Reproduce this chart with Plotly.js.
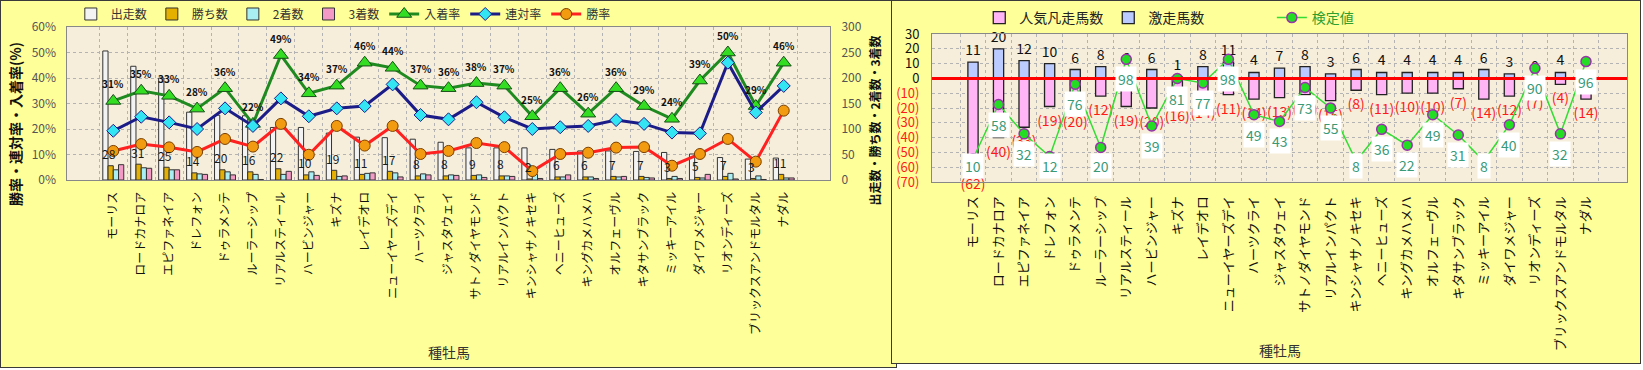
<!DOCTYPE html>
<html><head><meta charset="utf-8">
<script src="https://cdn.plot.ly/plotly-3.0.1.min.js"></script>
<style>
body{margin:0;background:#ffffff;}
#left{position:absolute;left:0;top:0;width:897px;height:368px;border:1px solid #3a3a3a;box-sizing:border-box;background:#FFFF99;}
#right{position:absolute;left:891px;top:0;width:750px;height:364px;border:1px solid #3a3a3a;box-sizing:border-box;background:#FFFF99;}
</style></head><body>
<div id="left"></div><div id="right"></div>
<script>
// ---------- data ----------
const sires = ['モーリス','ロードカナロア','エピファネイア','ドレフォン','ドゥラメンテ','ルーラーシップ','リアルスティール','ハービンジャー','キズナ','レイデオロ','ニューイヤーズデイ','ハーツクライ','ジャスタウェイ','サトノダイヤモンド','リアルインパクト','キンシャサノキセキ','ヘニーヒューズ','キングカメハメハ','オルフェーヴル','キタサンブラック','ミッキーアイル','ダイワメジャー','リオンディーズ','ブリックスアンドモルタル','ナダル'];
const runs    = [253,223,200,133,127,126,103,103,92,84,83,80,74,63,63,63,60,57,57,56,54,51,44,41,43];
const wins    = [28,31,25,14,20,16,22,10,19,11,17,8,8,9,8,2,6,6,7,7,3,5,7,3,11];
const seconds = [20,24,20,12,16,11,11,16,7,13,14,12,10,10,8,11,6,6,6,5,7,4,13,8,4];
const thirds  = [30,23,20,11,10,1,17,9,8,14,6,10,9,5,7,3,10,3,7,4,3,11,2,1,4];
const placeRate  = [31,35,33,28,36,22,49,34,37,46,44,37,36,38,37,25,36,26,36,29,24,39,50,29,46];
const rentaiRate = [19.3,24.8,22.6,20.0,28.1,21.2,32.0,25.0,28.1,29.0,37.5,25.5,23.8,30.5,24.6,20.0,20.7,21.2,23.5,22.0,18.6,18.3,46.0,26.5,36.9];
const winRate    = [11.4,14.1,12.8,11.0,16.1,13.1,22.0,9.9,21.2,13.5,21.2,10.2,11.4,14.5,12.9,3.5,10.2,10.7,12.7,12.9,5.6,10.2,16.1,7.2,27.2];

const surge   = [11,20,12,10,6,8,6,6,1,8,11,4,7,8,3,6,4,4,4,4,6,3,0,4,3];
const popFail = [-62,-40,-33,-19,-20,-12,-19,-20,-16,-14,-11,-14,-13,-11,-15,-8,-11,-10,-10,-7,-14,-12,-7,-4,-14];
const testVal = [10,58,32,12,76,20,98,39,81,77,98,49,43,73,55,8,36,22,49,31,8,40,90,32,96];

const rightTickVals = [30,20,10,0,-10,-20,-30,-40,-50,-60,-70];

// ---------- styles ----------
const FONT = '"Noto Sans CJK JP","Noto Sans",sans-serif';
const GRID = '#B3B3B3';
const barLine = {color:'#333333', width:1};

// ---------- left chart ----------
const leftTraces = [
  {type:'bar', name:'出走数', x:sires, y:runs, marker:{color:'#F3F3F3', line:barLine}},
  {type:'bar', name:'勝ち数', x:sires, y:wins, marker:{color:'#E6B000', line:barLine}},
  {type:'bar', name:'2着数', x:sires, y:seconds, marker:{color:'#A8EEF2', line:barLine}},
  {type:'bar', name:'3着数', x:sires, y:thirds, marker:{color:'#F49AC6', line:barLine}},
  {type:'scatter', mode:'lines+markers', name:'入着率', x:sires, y:placeRate, yaxis:'y2',
   line:{color:'#1F8A1F', width:3}, marker:{symbol:'triangle-up', size:13, color:'#33DD22', line:{color:'#174F17', width:1}}},
  {type:'scatter', mode:'lines+markers', name:'連対率', x:sires, y:rentaiRate, yaxis:'y2',
   line:{color:'#1C1C88', width:3}, marker:{symbol:'diamond', size:10, color:'#33E5F2', line:{color:'#1C1C88', width:1}}},
  {type:'scatter', mode:'lines+markers', name:'勝率', x:sires, y:winRate, yaxis:'y2',
   line:{color:'#FF2020', width:3}, marker:{symbol:'circle', size:11, color:'#F29A10', line:{color:'#7A4000', width:1}}}
];

const leftAnn = [];
sires.forEach((s,i)=>{
  leftAnn.push({x:s, y:wins[i], xref:'x', yref:'y', text:String(wins[i]), showarrow:false,
    yshift:12, xshift:-4, font:{size:12, color:'#1a1a1a'}});
  leftAnn.push({x:s, y:placeRate[i], xref:'x', yref:'y2', text:placeRate[i]+'%', showarrow:false,
    yshift:17, font:{size:10, color:'#111', weight:'bold'}});
});
leftAnn.push({xref:'paper', yref:'paper', x:0.5, y:-1.124, text:'種牡馬', showarrow:false,
  font:{size:14, color:'#333'}, xanchor:'center', yanchor:'middle'});
leftAnn.push({xref:'paper', yref:'paper', x:-0.068, y:0.366, text:'勝率・連対率・入着率(%)', showarrow:false,
  textangle:-90, xanchor:'center', yanchor:'middle', font:{size:14, color:'#111', weight:'bold'}});
leftAnn.push({xref:'paper', yref:'paper', x:1.058, y:0.39, text:'出走数・勝ち数・2着数・3着数', showarrow:false,
  textangle:-90, xanchor:'center', yanchor:'middle', font:{size:12, color:'#111', weight:'bold'}});

const leftLayout = {
  width:895, height:366,
  paper_bgcolor:'#FFFF99', plot_bgcolor:'#F6EEDB',
  margin:{l:66, r:66, t:26, b:187, autoexpand:false},
  barmode:'group', bargap:0.25, bargroupgap:0,
  font:{family:FONT, size:12, color:'#222'},
  hovermode:false,
  showlegend:true,
  legend:{orientation:'h', x:0.005, xanchor:'left', y:1.085, yanchor:'middle',
    font:{size:12, color:'#333'}, bgcolor:'rgba(0,0,0,0)', traceorder:'normal'},
  xaxis:{type:'category', tickangle:-90, tickfont:{size:12, color:'#111'},
    showgrid:true, gridcolor:GRID, griddash:'dot', tickson:'boundaries', ticks:'',
    showline:true, mirror:true, linecolor:'#888', linewidth:1, automargin:false, ticklabelstandoff:6},
  yaxis:{side:'right', range:[0,300], dtick:50, showgrid:true, gridcolor:GRID, griddash:'dot',
    tickfont:{size:12, color:'#555'}, showline:true, mirror:true, linecolor:'#888', zeroline:false,
    automargin:false, ticklabelstandoff:8, ticks:''},
  yaxis2:{overlaying:'y', side:'left', range:[0,60], dtick:10, ticksuffix:'%', showgrid:false,
    zeroline:false, tickfont:{size:12, color:'#555'}, automargin:false, ticklabelstandoff:10, ticks:''},
  annotations:leftAnn
};
Plotly.newPlot('left', leftTraces, leftLayout, {staticPlot:true, displayModeBar:false});

// ---------- right chart ----------
const rightTraces = [
  {type:'bar', name:'人気凡走馬数', x:sires, y:popFail, marker:{color:'#FFB5F6', line:{color:'#222', width:1.3}},
   text:popFail.map(v=>'('+(-v)+')'), textposition:'outside', textfont:{size:14, color:'#FF1A1A'},
   cliponaxis:false, constraintext:'none'},
  {type:'bar', name:'激走馬数', x:sires, y:surge, marker:{color:'#BCCBFF', line:{color:'#222', width:1.3}},
   text:surge.map(v=>String(v)), textposition:'outside', textfont:{size:14, color:'#111'},
   cliponaxis:false, constraintext:'none'},
  {type:'scatter', mode:'lines+markers', name:'検定値', x:sires, y:testVal, yaxis:'y2', legend:'legend2',
   line:{color:'#33DD33', width:1.5}, marker:{size:10, color:'#22DD22', line:{color:'#9933AA', width:1.5}},
   cliponaxis:false}
];

const rightAnn = testVal.map((v,i)=>({x:sires[i], y:Math.max(v,21), xref:'x', yref:'y2', text:String(v),
  showarrow:false, yshift:-20, bgcolor:'#FFFFFF', borderpad:2, font:{size:14, color:'#3A9A78'}}));
rightAnn.push({xref:'paper', yref:'paper', x:0.5, y:-1.135, text:'種牡馬', showarrow:false,
  font:{size:14, color:'#333'}, xanchor:'center', yanchor:'middle'});

const rightLayout = {
  width:748, height:362,
  paper_bgcolor:'#FFFF99', plot_bgcolor:'#F6EEDB',
  margin:{l:40, r:13, t:33, b:181, autoexpand:false},
  barmode:'overlay', bargap:0.6,
  font:{family:FONT, size:13, color:'#222'},
  hovermode:false,
  showlegend:true,
  legend:{orientation:'h', x:0.068, xanchor:'left', y:1.108, yanchor:'middle',
    font:{size:14, color:'#222'}, bgcolor:'rgba(0,0,0,0)', traceorder:'normal'},
  legend2:{orientation:'h', x:0.489, xanchor:'left', y:1.108, yanchor:'middle',
    font:{size:14, color:'#2E9E2E'}, bgcolor:'rgba(0,0,0,0)'},
  xaxis:{type:'category', tickangle:-90, tickfont:{size:13, color:'#111'},
    showgrid:true, gridcolor:GRID, griddash:'dot', tickson:'boundaries', ticks:'',
    showline:true, mirror:true, linecolor:'#888', linewidth:1, automargin:false, ticklabelstandoff:8},
  yaxis:{range:[-70,30], tickvals:rightTickVals,
    ticktext:rightTickVals.map(v=> v>=0 ? String(v) : '<span style="color:#FF1A1A">('+(-v)+')</span>'),
    showgrid:true, gridcolor:GRID, griddash:'dot', tickfont:{size:13, color:'#111'},
    showline:true, mirror:true, linecolor:'#888', zeroline:false, automargin:false, ticklabelstandoff:9, ticks:''},
  yaxis2:{overlaying:'y', range:[-10.6,120.4], visible:false, showgrid:false, zeroline:false},
  shapes:[{type:'line', xref:'paper', yref:'y', x0:0, x1:1, y0:0, y1:0, layer:'above',
    line:{color:'#FF0000', width:3}}],
  annotations:rightAnn
};
Plotly.newPlot('right', rightTraces, rightLayout, {staticPlot:true, displayModeBar:false});
</script>
</body></html>
